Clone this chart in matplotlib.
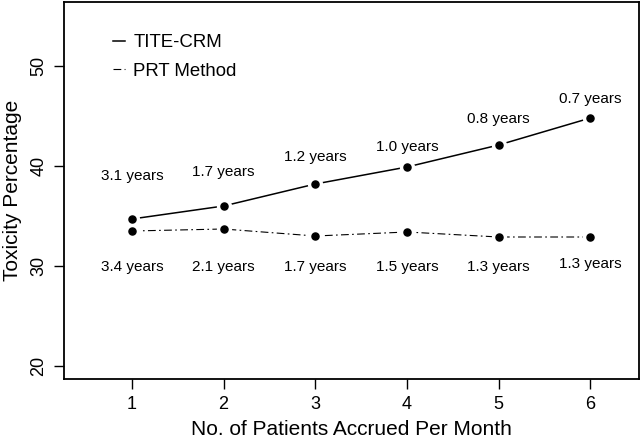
import matplotlib
matplotlib.use("Agg")
import matplotlib.pyplot as plt

plt.rcParams['font.family'] = ['Liberation Sans', 'DejaVu Sans']

patients_per_month = [1, 2, 3, 4, 5, 6]
tite_crm = [34.7, 36.0, 38.2, 39.9, 42.1, 44.8]
prt_method = [33.5, 33.7, 33.0, 33.4, 32.9, 32.9]
tite_labels = ["3.1 years", "1.7 years", "1.2 years", "1.0 years", "0.8 years", "0.7 years"]
prt_labels = ["3.4 years", "2.1 years", "1.7 years", "1.5 years", "1.3 years", "1.3 years"]
tite_label_y = [39.0, 39.4, 40.9, 41.9, 44.7, 46.7]
prt_label_y = [29.9, 29.9, 29.9, 29.9, 29.9, 30.2]

fig = plt.figure(figsize=(6.4, 4.41), dpi=100)
ax = fig.add_axes([64 / 640, 1 - 379 / 441, 575 / 640, 377 / 441])

ax.plot(patients_per_month, tite_crm, color="black", lw=1.1, label="TITE-CRM", zorder=1)
ax.plot(patients_per_month, prt_method, color="black", lw=0.8,
        linestyle=(0, (7, 3, 1.5, 3)), label="PRT Method", zorder=1)
# white halos give the gapped look at each point
for ys in (tite_crm, prt_method):
    ax.scatter(patients_per_month, ys, s=100, color="white", zorder=2)
    ax.scatter(patients_per_month, ys, s=26, color="black", zorder=3)

for x, y, t in zip(patients_per_month, tite_label_y, tite_labels):
    ax.text(x, y, t, ha="center", va="center", fontsize=11)
for x, y, t in zip(patients_per_month, prt_label_y, prt_labels):
    ax.text(x, y, t, ha="center", va="center", fontsize=11)

ax.set_xlim(0.26, 6.53)
ax.set_ylim(18.7, 56.4)
ax.set_xticks(patients_per_month)
ax.set_yticks([20, 30, 40, 50])
ax.tick_params(direction="out", length=7, width=1, labelsize=13, pad=5)
for lab in ax.get_yticklabels():
    lab.set_rotation(90)
    lab.set_va("center")
for s in ax.spines.values():
    s.set_linewidth(1.3)

ax.set_xlabel("No. of Patients Accrued Per Month", fontsize=15, labelpad=5)
ax.set_ylabel("Toxicity Percentage", fontsize=15, labelpad=6)

ax.legend(loc="upper left", bbox_to_anchor=(0.085, 0.915), frameon=False,
          borderpad=0, borderaxespad=0,
          handlelength=0.65, handletextpad=0.45, fontsize=13.4, labelspacing=0.62)

fig.savefig("out.png", dpi=100)
